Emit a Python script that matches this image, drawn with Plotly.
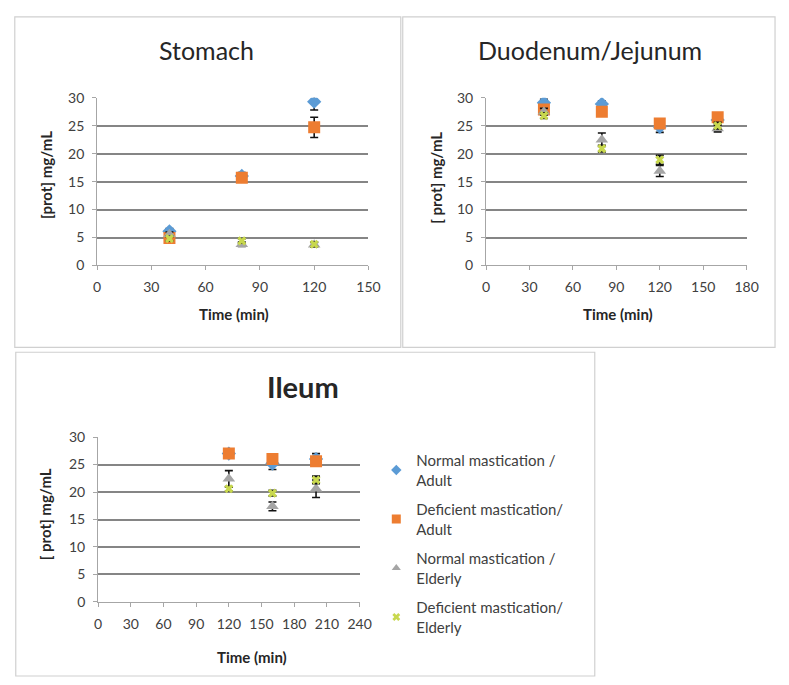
import plotly.graph_objects as go

W, H = 789, 685

series_names = ["Normal mastication /<br>Adult", "Deficient mastication/<br>Adult",
                "Normal mastication /<br>Elderly", "Deficient mastication/<br>Elderly"]
colors = ["#5B9BD5", "#ED7D31", "#A5A5A5", "#C8D84E"]
symbols = ["diamond", "square", "triangle-up", "x"]
sizes = [11, 12, 11, 8]
legend_sizes = [8, 9, 8, 7]

# Stomach
stomach_time = [40, 80, 120]
stomach_vals = [
    [6.1, 16.0, 29.3],
    [4.9, 15.7, 24.7],
    [5.6, 3.8, 3.7],
    [4.8, 4.4, 3.8],
]
stomach_err = [
    [0.5, 0.6, 1.5],
    [0.5, 0.6, 1.8],
    [0.4, 0.4, 0.4],
    [0.4, 0.4, 0.4],
]

# Duodenum/Jejunum
duod_time = [40, 80, 120, 160]
duod_vals = [
    [29.1, 28.9, 24.8, 26.0],
    [27.9, 27.5, 25.4, 26.5],
    [27.5, 22.5, 16.9, 24.5],
    [26.8, 20.9, 18.9, 25.0],
]
duod_err = [
    [0.6, 0.5, 1.0, 0.6],
    [0.6, 0.6, 0.6, 0.6],
    [0.6, 1.2, 1.0, 0.6],
    [0.5, 0.6, 0.8, 0.6],
]

# Ileum
ileum_time = [120, 160, 200]
ileum_vals = [
    [27.0, 25.2, 26.0],
    [27.0, 26.0, 25.6],
    [22.4, 17.4, 20.6],
    [20.6, 19.8, 22.2],
]
ileum_err = [
    [0.5, 1.1, 1.0],
    [0.5, 0.6, 0.6],
    [1.5, 0.8, 1.6],
    [0.4, 0.5, 0.7],
]

FONT = "Lato"

def px(x):
    return x / W

def py(y):
    return 1 - y / H

fig = go.Figure()

panels = [
    ("x", "y", stomach_time, stomach_vals, stomach_err),
    ("x2", "y2", duod_time, duod_vals, duod_err),
    ("x3", "y3", ileum_time, ileum_vals, ileum_err),
]

for pi, (xa, ya, t, vals, errs) in enumerate(panels):
    for si in range(4):
        fig.add_trace(go.Scatter(
            x=t, y=vals[si], mode="markers", xaxis=xa, yaxis=ya,
            name=series_names[si], legendgroup=str(si),
            showlegend=False,
            marker=dict(color=colors[si], symbol=symbols[si], size=sizes[si],
                        line=dict(width=0)),
            error_y=dict(type="data", array=errs[si], color="#111111",
                         thickness=1.6, width=4),
        ))

# legend entries (small symbols, as in the original)
for si in range(4):
    fig.add_trace(go.Scatter(
        x=[None], y=[None], mode="markers", xaxis="x3", yaxis="y3",
        name=series_names[si], legendgroup=str(si), showlegend=True,
        marker=dict(color=colors[si], symbol=symbols[si], size=legend_sizes[si],
                    line=dict(width=0)),
    ))

axis_common = dict(showgrid=False, zeroline=False, showline=True, linecolor="#A6A6A6",
                   linewidth=1, ticks="outside", ticklen=4, tickcolor="#A6A6A6",
                   ticklabelstandoff=5,
                   tickfont=dict(family=FONT, size=14, color="#404040"))
yaxis_common = dict(range=[0, 30], dtick=5, showgrid=True, gridcolor="#858585",
                    gridwidth=1.5, zeroline=False, showline=True, linecolor="#A6A6A6",
                    ticks="outside", ticklen=4, tickcolor="#A6A6A6",
                    ticklabelstandoff=5,
                    tickfont=dict(family=FONT, size=14, color="#404040"))

fig.update_layout(
    width=W, height=H, margin=dict(l=0, r=0, t=0, b=0),
    paper_bgcolor="white", plot_bgcolor="white",
    xaxis=dict(domain=[px(95), px(372)], range=[0, 150], dtick=30, anchor="y", **axis_common),
    yaxis=dict(domain=[py(263), py(91)], anchor="x", **yaxis_common),
    xaxis2=dict(domain=[px(492), px(758)], range=[0, 180], dtick=30, anchor="y2", **axis_common),
    yaxis2=dict(domain=[py(263), py(91)], anchor="x2", **yaxis_common),
    xaxis3=dict(domain=[px(96), px(363)], range=[0, 240], dtick=30, anchor="y3", **axis_common),
    yaxis3=dict(domain=[py(608), py(439)], anchor="x3", **yaxis_common),
    legend=dict(x=px(380), y=py(446), xanchor="left", yanchor="top",
                font=dict(family=FONT, size=15, color="#404040"),
                traceorder="grouped", tracegroupgap=7, itemwidth=30,
                bgcolor="rgba(0,0,0,0)"),
    showlegend=True,
)

# panel borders
for (x0, y0, x1, y1) in [(11, 8, 405, 347), (407, 8, 787, 347), (12, 352, 603, 684)]:
    fig.add_shape(type="rect", xref="paper", yref="paper",
                  x0=px(x0), x1=px(x1), y0=py(y1), y1=py(y0),
                  line=dict(color="#D0D0D0", width=1.2), fillcolor="rgba(0,0,0,0)", layer="below")

def add_text(text, x, y, size, bold=False, angle=0, color="#262626"):
    fig.add_annotation(text=(f"<b>{text}</b>" if bold else text), x=px(x), y=py(y),
                       xref="paper", yref="paper", showarrow=False, textangle=angle,
                       xanchor="center", yanchor="middle",
                       font=dict(family=FONT, size=size, color=color))

add_text("Stomach", 207, 42, 25)
add_text("Duodenum/Jejunum", 598, 42, 25)
add_text("Ileum", 305, 387, 29, bold=True)

add_text("[prot] mg/mL", 43, 170, 15, bold=True, angle=-90)
add_text("[ prot] mg/mL", 441, 173, 15, bold=True, angle=-90)
add_text("[ prot] mg/mL", 42, 518, 15, bold=True, angle=-90)

add_text("Time (min)", 235, 313, 15, bold=True)
add_text("Time (min)", 627, 313, 15, bold=True)
add_text("Time (min)", 253, 665, 15, bold=True)

fig.write_html("out.html",
               config={"displayModeBar": False},
               post_script="document.body.style.margin='0px';document.body.style.overflow='hidden';")
